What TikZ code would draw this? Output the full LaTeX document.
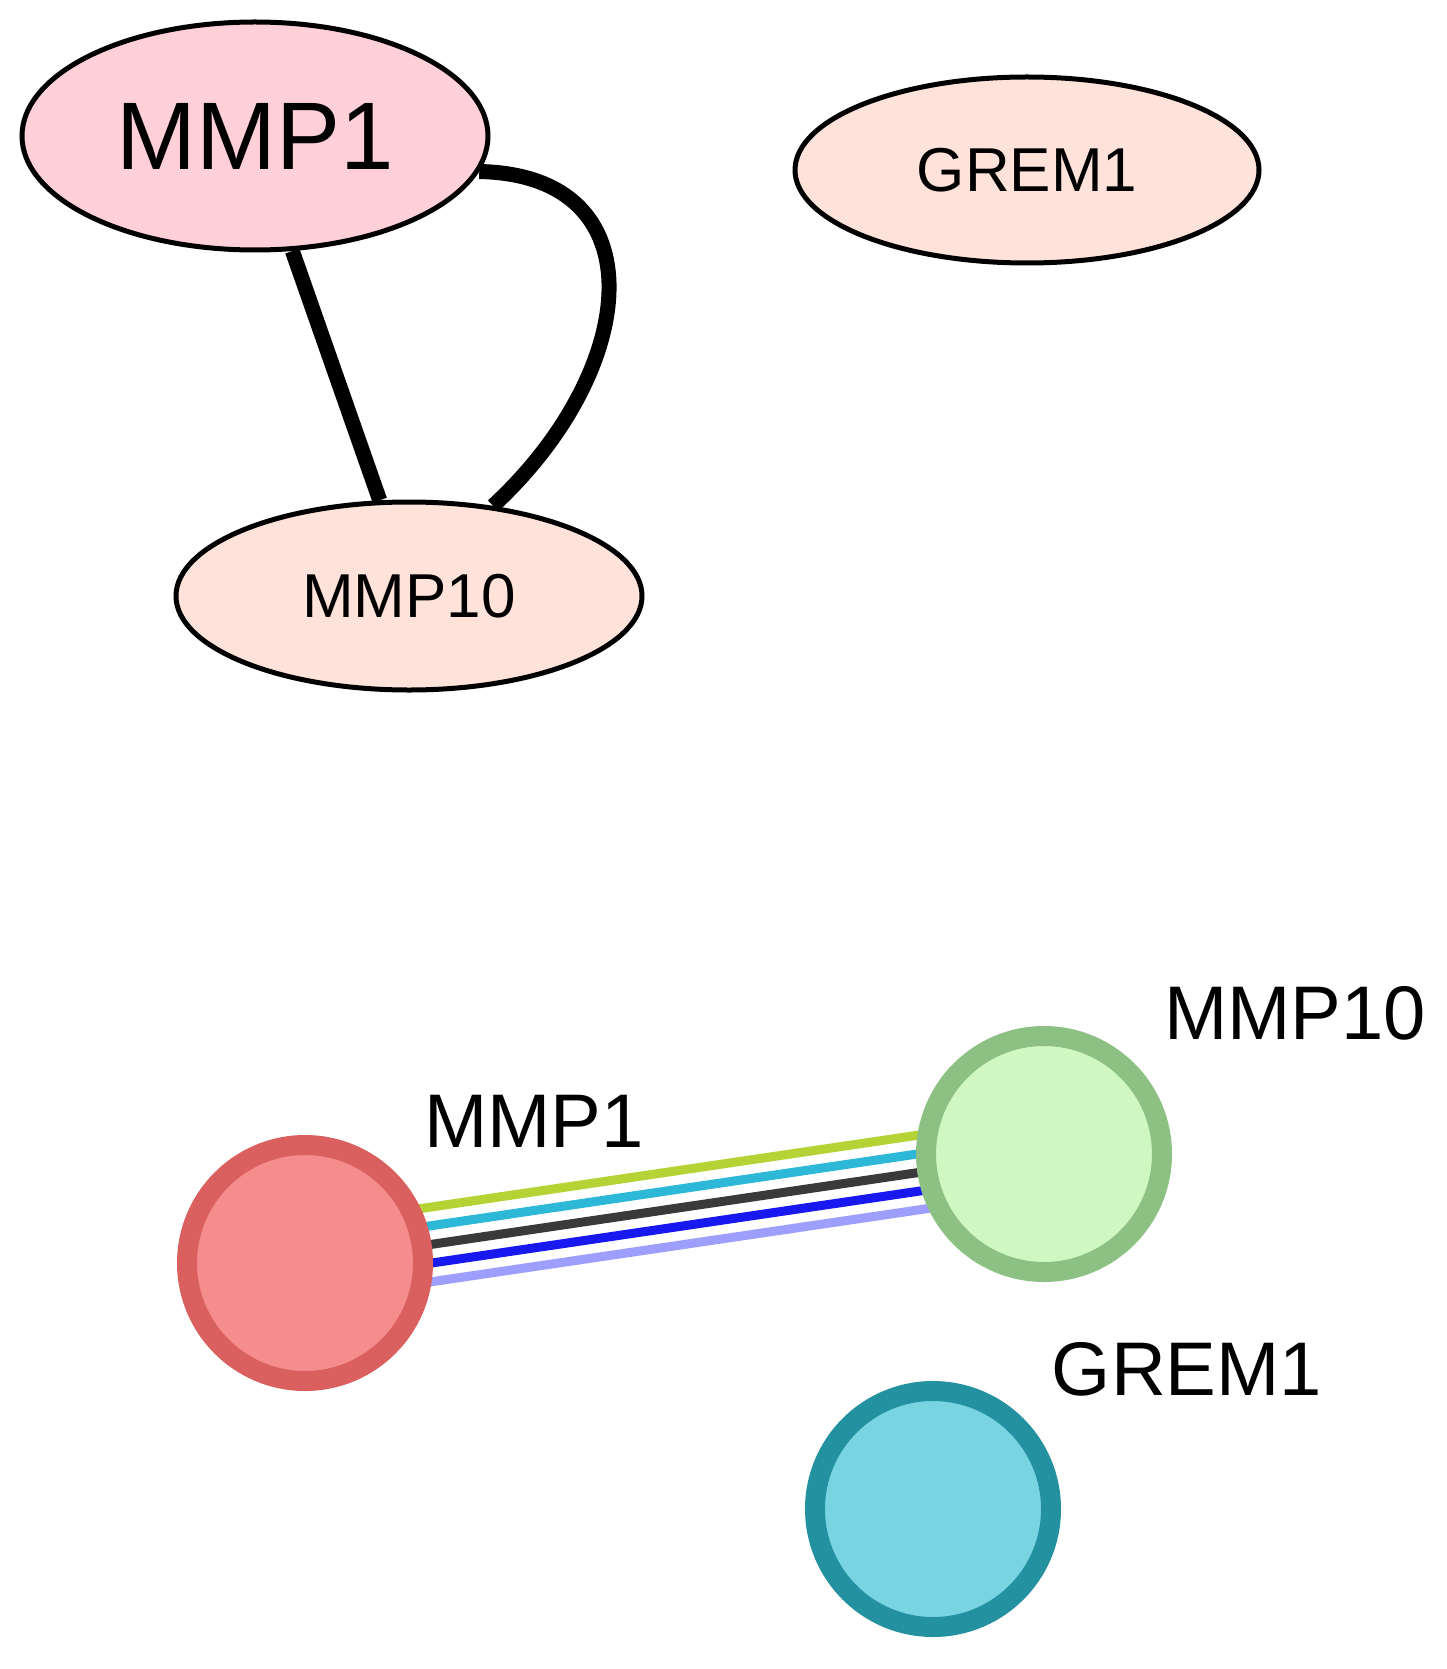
\documentclass[tikz,border=0pt]{standalone}
\usepackage{fontspec}
\setmainfont{Liberation Sans}
\usetikzlibrary{shapes.geometric,calc}
\definecolor{pinkA}{HTML}{FFD0D8}
\definecolor{peachA}{HTML}{FFE3DA}
\definecolor{redF}{HTML}{F48D8B}
\definecolor{redB}{HTML}{D9605F}
\definecolor{grnF}{HTML}{CEF7C2}
\definecolor{grnB}{HTML}{8DC083}
\definecolor{cyF}{HTML}{79D4E2}
\definecolor{cyB}{HTML}{23919F}
\definecolor{l1}{HTML}{B5D334}
\definecolor{l2}{HTML}{2CB8D6}
\definecolor{l3}{HTML}{3A3A3A}
\definecolor{l4}{HTML}{1818F0}
\definecolor{l5}{HTML}{9E9EFF}
\begin{document}
\begin{tikzpicture}[x=1pt,y=-1pt,
  ell/.style={ellipse,draw=black,line width=5pt,inner sep=0pt},
  prot/.style={circle,line width=20pt,minimum size=236pt,inner sep=0pt},
  edge/.style={line width=15pt,black},
  lab/.style={font=\fontsize{76}{82}\selectfont},
  link/.style={line width=9pt}]
\useasboundingbox (0,0) rectangle (1446,1669);
% top network
\node[ell,fill=pinkA,minimum width=466pt,minimum height=228pt,font=\fontsize{96}{100}\selectfont] (m1) at (255,136) {MMP1};
\node[ell,fill=peachA,minimum width=464pt,minimum height=186pt,font=\fontsize{62}{66}\selectfont] (g1) at (1027,170) {GREM1};
\node[ell,fill=peachA,minimum width=466pt,minimum height=188pt,font=\fontsize{62}{66}\selectfont] (m10) at (409,596) {MMP10};
\draw[edge] (m1.-72) -- (m10.107);
\draw[edge] (m1.-9) .. controls (660,175) and (640,370) .. (m10.47);
% bottom network
\coordinate (p1) at (305,1263);
\coordinate (p10) at (1044,1154);
\foreach \o/\c in {37/l1,18.5/l2,0/l3,-18.5/l4,-37/l5}{
  \draw[link,\c] ($(p1)!\o pt!90:(p10)$) -- ($(p10)!\o pt!-90:(p1)$);
}
\node[prot,fill=redF,draw=redB] (c1) at (p1) {};
\node[prot,fill=grnF,draw=grnB] (c10) at (p10) {};
\node[prot,fill=cyF,draw=cyB] (cg) at (933,1509) {};
\node[lab] (t1) at (534,1121) {MMP1};
\node[lab] (t10) at (1295,1013) {MMP10};
\node[lab] (tg) at (1187,1369) {GREM1};
\end{tikzpicture}
\end{document}
